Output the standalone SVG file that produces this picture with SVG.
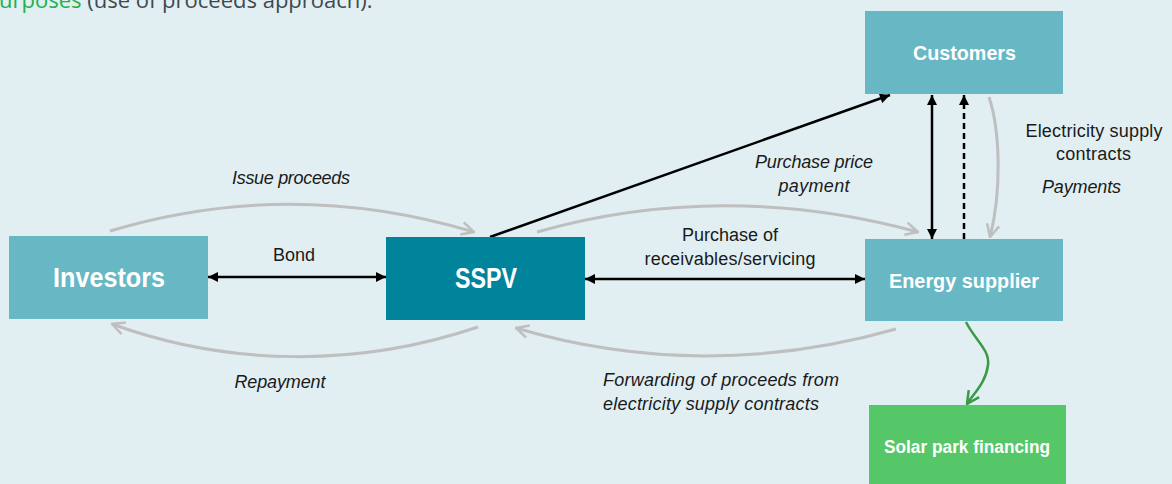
<svg xmlns="http://www.w3.org/2000/svg" width="1172" height="484" viewBox="0 0 1172 484">
<defs>
<style>
.box{stroke:none}
.nl{font-family:"Liberation Sans",Arial,sans-serif;font-weight:bold;fill:#fff;text-anchor:middle}
.lb{font-family:"Liberation Sans",Arial,sans-serif;font-size:18px;fill:#1a1a1a}
.it{font-style:italic}
.blk{fill:none;stroke:#000;stroke-width:2.5}
.gry{fill:none;stroke:#BFBFBF;stroke-width:3}
</style>
<marker id="ab" viewBox="0 0 10 10" refX="10" refY="5" markerWidth="11" markerHeight="10" markerUnits="userSpaceOnUse" orient="auto-start-reverse">
<path d="M0,0 L10,5 L0,10 z" fill="#000"/>
</marker>
<marker id="ag" viewBox="0 0 12 12" refX="11" refY="6" markerWidth="15" markerHeight="15" markerUnits="userSpaceOnUse" orient="auto">
<path d="M1,1 L11,6 L1,11" fill="none" stroke="#BFBFBF" stroke-width="2"/>
</marker>
<marker id="agr" viewBox="0 0 12 12" refX="11" refY="6" markerWidth="15" markerHeight="15" markerUnits="userSpaceOnUse" orient="auto">
<path d="M1,1 L11,6 L1,11" fill="none" stroke="#3A9A48" stroke-width="2"/>
</marker>
</defs>
<rect x="0" y="0" width="1172" height="484" fill="#E1EFF3"/>
<text x="-1" y="8" font-family="'Open Sans',sans-serif" font-size="22" fill="#404850"><tspan fill="#22B04A">urposes</tspan> (use of proceeds approach).</text>

<g id="connectors">
<line class="blk" x1="208" y1="277" x2="386" y2="277" marker-start="url(#ab)" marker-end="url(#ab)"/>
<line class="blk" x1="585" y1="279" x2="865" y2="279" marker-start="url(#ab)" marker-end="url(#ab)"/>
<line class="blk" x1="490" y1="237" x2="890" y2="95" marker-end="url(#ab)"/>
<line class="blk" x1="932" y1="95" x2="932" y2="239" marker-start="url(#ab)" marker-end="url(#ab)"/>
<line class="blk" x1="964" y1="239" x2="964" y2="95" stroke-dasharray="6,4" marker-end="url(#ab)"/>
<path class="gry" d="M110,231 C230,195 350,195 474,232" marker-end="url(#ag)"/>
<path class="gry" d="M478,327 C360,367 230,367 112,324" marker-end="url(#ag)"/>
<path class="gry" d="M537,232 C660,197 790,197 918,232" marker-end="url(#ag)"/>
<path class="gry" d="M896,329 C770,365 640,365 516,328" marker-end="url(#ag)"/>
<path class="gry" d="M989,97 C1000,130 1002,190 990,237" marker-end="url(#ag)"/>
<path fill="none" stroke="#3A9A48" stroke-width="2.5" d="M966,322 C975,340 990,350 988,365 C986,382 975,392 967,404" marker-end="url(#agr)"/>
</g>

<g id="labels">
<text class="lb it" x="291" y="184" text-anchor="middle" textLength="118">Issue proceeds</text>
<text class="lb" x="294" y="261" text-anchor="middle" textLength="42">Bond</text>
<text class="lb it" x="280" y="388" text-anchor="middle" textLength="91">Repayment</text>
<text class="lb it" x="814" y="168" text-anchor="middle" textLength="118">Purchase price</text>
<text class="lb it" x="814" y="192" text-anchor="middle" textLength="71">payment</text>
<text class="lb" x="730" y="241" text-anchor="middle" textLength="96">Purchase of</text>
<text class="lb" x="730" y="265" text-anchor="middle" textLength="171">receivables/servicing</text>
<text class="lb it" x="603" y="386" textLength="236">Forwarding of proceeds from</text>
<text class="lb it" x="603" y="410" textLength="216">electricity supply contracts</text>
<text class="lb" x="1094" y="137" text-anchor="middle" textLength="137">Electricity supply</text>
<text class="lb" x="1093.5" y="160" text-anchor="middle" textLength="75">contracts</text>
<text class="lb it" x="1081.5" y="193" text-anchor="middle" textLength="79">Payments</text>
</g>

<g id="investors">
<rect class="box" x="9" y="236" width="199" height="83" fill="#67B8C4"/>
<text class="nl" x="109" y="287" font-size="27" textLength="112" lengthAdjust="spacingAndGlyphs">Investors</text>
</g>
<g id="sspv">
<rect class="box" x="386" y="237" width="199" height="83" fill="#00849B"/>
<text class="nl" x="486" y="288" font-size="29" textLength="62" lengthAdjust="spacingAndGlyphs">SSPV</text>
</g>
<g id="customers">
<rect class="box" x="865" y="11" width="198" height="83" fill="#67B8C4"/>
<text class="nl" x="964.5" y="60" font-size="20" textLength="103" lengthAdjust="spacingAndGlyphs">Customers</text>
</g>
<g id="energy-supplier">
<rect class="box" x="865" y="239" width="198" height="82" fill="#67B8C4"/>
<text class="nl" x="964" y="288" font-size="20" textLength="150" lengthAdjust="spacingAndGlyphs">Energy supplier</text>
</g>
<g id="solar-park">
<rect class="box" x="869" y="405" width="197" height="85" fill="#55C768"/>
<text class="nl" x="967" y="453" font-size="18" textLength="166" lengthAdjust="spacingAndGlyphs">Solar park financing</text>
</g>
</svg>
